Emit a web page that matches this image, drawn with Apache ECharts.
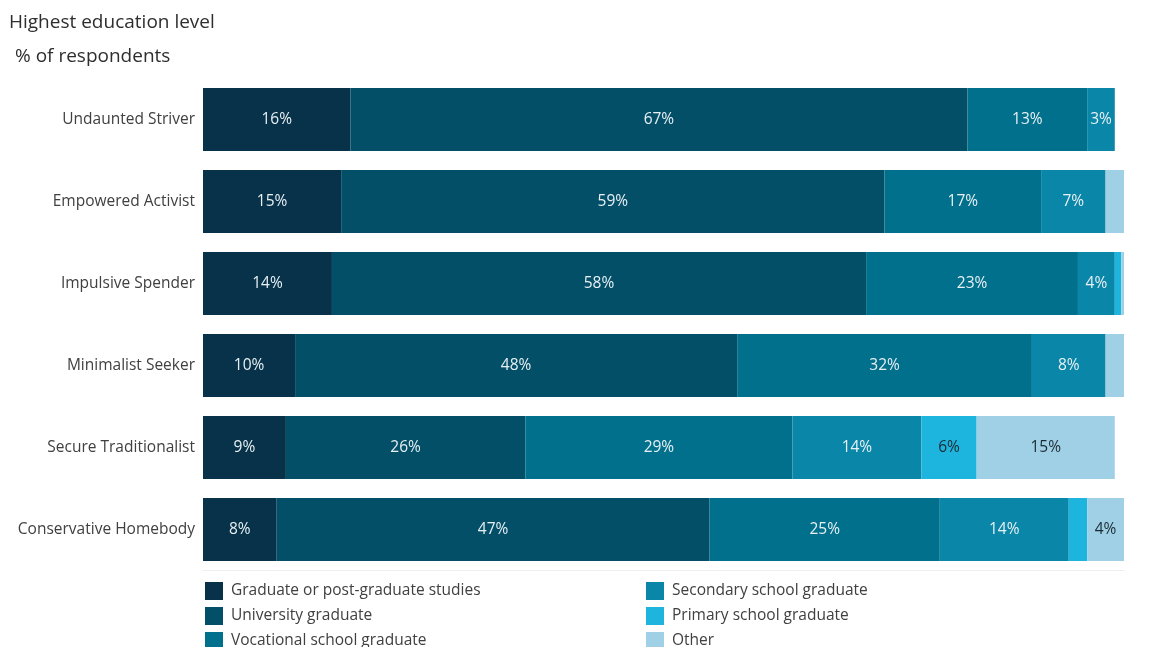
<!DOCTYPE html>
<html>
<head>
<meta charset="utf-8">
<script src="https://cdn.jsdelivr.net/npm/echarts@6/dist/echarts.min.js"></script>
<style>
  html, body { margin: 0; padding: 0; background: #ffffff; }
  #chart { width: 1156px; height: 647px; }
</style>
</head>
<body>
<div id="chart"></div>
<script>
// Segments, top row first
const segments = ['Undaunted Striver', 'Empowered Activist', 'Impulsive Spender',
                  'Minimalist Seeker', 'Secure Traditionalist', 'Conservative Homebody'];

// Share of respondents (%) per education level
const graduate   = [16, 15, 14, 10, 9, 8];
const university = [67, 59, 58, 48, 26, 47];
const vocational = [13, 17, 23, 32, 29, 25];
const secondary  = [3, 7, 4, 8, 14, 14];
const primary    = [0, 0, 0.7, 0, 6, 2];
const other      = [0, 2, 0.3, 2, 15, 4];

const levelNames = ['Graduate or post-graduate studies', 'University graduate',
                    'Vocational school graduate', 'Secondary school graduate',
                    'Primary school graduate', 'Other'];
const levelValues = [graduate, university, vocational, secondary, primary, other];
const levelColors = ['#07324a', '#034f68', '#00708c', '#0a86a8', '#1db4de', '#a0d0e6'];
const labelColors = ['#e8f0f4', '#e8f0f4', '#e8f0f4', '#e8f0f4', '#1a2a33', '#1a2a33'];

const FONT = '"Open Sans", "Noto Sans", sans-serif';

const chart = echarts.init(document.getElementById('chart'), null, { renderer: 'canvas' });

const series = levelNames.map((name, i) => ({
  name: name,
  type: 'bar',
  stack: 'total',
  barWidth: 63,
  data: levelValues[i],
  itemStyle: { color: levelColors[i] },
  label: {
    show: true,
    position: 'inside',
    color: labelColors[i],
    fontFamily: FONT,
    fontSize: 15.5,
    formatter: p => (p.value >= 3 ? p.value + '%' : '')
  },
  emphasis: { disabled: true }
}));

// Legend: two columns of three, one entry per legend block
const legends = levelNames.map((name, i) => ({
  data: [name],
  left: i < 3 ? 205 : 646,
  top: 582 + (i % 3) * 25,
  padding: 0,
  itemWidth: 18,
  itemHeight: 18,
  icon: 'rect',
  selectedMode: false,
  textStyle: { color: '#404040', fontFamily: FONT, fontSize: 15.5, padding: [0, 0, 0, 3] }
}));

chart.setOption({
  animation: false,
  backgroundColor: '#ffffff',
  title: [
    { text: 'Highest education level', left: 9, top: 13, padding: 0,
      textStyle: { color: '#2e2e2e', fontFamily: FONT, fontSize: 19, fontWeight: 'normal' } },
    { text: '% of respondents', left: 15, top: 47, padding: 0,
      textStyle: { color: '#2e2e2e', fontFamily: FONT, fontSize: 19, fontWeight: 'normal' } }
  ],
  legend: legends,
  grid: { left: 203, right: 32, top: 78.5, height: 492, containLabel: false },
  xAxis: {
    type: 'value', min: 0, max: 100,
    axisLine: { show: true, lineStyle: { color: '#eeeeee' } },
    axisTick: { show: false },
    axisLabel: { show: false },
    splitLine: { show: false }
  },
  yAxis: {
    type: 'category', inverse: true, data: segments,
    axisLine: { show: false },
    axisTick: { show: false },
    axisLabel: { color: '#404040', fontFamily: FONT, fontSize: 15.5, margin: 8 }
  },
  series: series
});
</script>
</body>
</html>
